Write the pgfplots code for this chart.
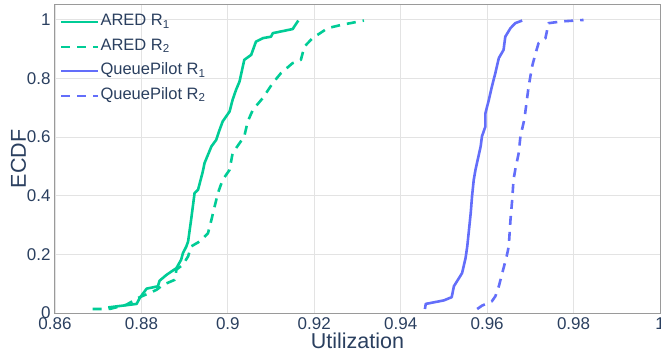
\documentclass[border=0pt]{standalone}
\usepackage{pgfplots}
\pgfplotsset{compat=1.18}
\usepackage{fontspec}
\setmainfont{Liberation Sans}
\definecolor{txt}{HTML}{2A3F5F}
\definecolor{cgreen}{HTML}{00CC96}
\definecolor{cblue}{HTML}{636EFA}
\definecolor{gridc}{HTML}{E3E3E3}
\definecolor{framec}{HTML}{9A9A9A}
\begin{document}
\begin{tikzpicture}
\useasboundingbox (-55bp,-45bp) rectangle (606bp,313bp);
\begin{axis}[
  at={(0,0)}, anchor=south west,
  scale only axis, width=605bp, height=308bp,
  xmin=0.86, xmax=1, ymin=0, ymax=1.05,
  xtick={0.86,0.88,...,1.001}, ytick={0,0.2,...,1.001},
  grid=major, major grid style={gridc, line width=0.8bp},
  axis line style={framec, line width=1bp},
  tick style={draw=none},
  /pgf/number format/assume math mode=true,
  ticklabel style={font=\fontsize{17bp}{20bp}\selectfont, text=txt},
  xticklabel style={yshift=-1bp},
  yticklabel style={xshift=-1bp},
  xlabel={Utilization}, ylabel={ECDF},
  label style={font=\fontsize{21.5bp}{24bp}\selectfont, text=txt},
  xlabel style={yshift=3bp},
  ylabel style={yshift=-6bp},
  legend style={at={(0.008,0.985)}, anchor=north west, draw=none, fill=none,
    font=\fontsize{16.5bp}{19bp}\selectfont, text=txt, row sep=0bp,
    inner sep=0pt, nodes={text height=14.5bp, text depth=7bp, inner sep=1.5bp}},
  legend cell align=left,
  legend image code/.code={\draw[#1, line width=2bp] (0bp,0bp) -- (37bp,0bp);},
  every axis plot/.append style={line width=2.6bp, line join=round},
]
\addplot[cgreen] coordinates {
(0.8723,0.019)(0.8789,0.031)(0.8796,0.051)(0.8812,0.083)(0.8838,0.091)(0.8842,0.110)
(0.8858,0.130)(0.8881,0.153)(0.8892,0.182)(0.8896,0.204)(0.8904,0.227)(0.8908,0.244)
(0.8915,0.318)(0.8923,0.409)(0.8931,0.420)(0.8942,0.482)(0.8946,0.511)(0.8962,0.568)
(0.8973,0.590)(0.8981,0.625)(0.8988,0.653)(0.9004,0.687)(0.9011,0.727)(0.9019,0.761)
(0.9027,0.789)(0.9038,0.863)(0.9054,0.880)(0.9065,0.925)(0.9081,0.937)(0.9100,0.942)
(0.9104,0.954)(0.9150,0.968)(0.9154,0.977)(0.9163,0.997)
};
\addlegendentry{ARED R\textsubscript{1}}
\addplot[cgreen, dash pattern=on 9bp off 7bp] coordinates {
(0.8687,0.0136)(0.8727,0.014)(0.8765,0.028)(0.8792,0.051)(0.8835,0.079)(0.8850,0.096)
(0.8877,0.113)(0.8881,0.148)(0.8896,0.165)(0.8908,0.193)(0.8915,0.227)(0.8935,0.244)
(0.8954,0.272)(0.8962,0.318)(0.8977,0.409)(0.8988,0.454)(0.9004,0.488)(0.9011,0.545)
(0.9038,0.602)(0.9046,0.653)(0.9058,0.693)(0.9081,0.733)(0.9104,0.784)(0.9123,0.818)
(0.9150,0.852)(0.9169,0.863)(0.9177,0.908)(0.9196,0.937)(0.9231,0.971)(0.9262,0.982)
(0.9315,0.997)
};
\addlegendentry{ARED R\textsubscript{2}}
\addplot[cblue] coordinates {
(0.9456,0.0136)(0.9458,0.031)(0.9500,0.043)(0.9518,0.054)(0.9523,0.091)(0.9542,0.136)
(0.9550,0.187)(0.9554,0.227)(0.9562,0.341)(0.9565,0.397)(0.9569,0.454)(0.9573,0.488)
(0.9585,0.568)(0.9588,0.602)(0.9596,0.636)(0.9596,0.681)(0.9604,0.727)(0.9611,0.772)
(0.9619,0.818)(0.9627,0.869)(0.9638,0.897)(0.9642,0.942)(0.9654,0.971)(0.9665,0.988)
(0.9681,0.997)
};
\addlegendentry{QueuePilot R\textsubscript{1}}
\addplot[cblue, dash pattern=on 9bp off 7bp] coordinates {
(0.9577,0.0136)(0.9588,0.025)(0.9611,0.040)(0.9619,0.057)(0.9627,0.091)(0.9638,0.153)
(0.9646,0.199)(0.9650,0.227)(0.9654,0.318)(0.9658,0.386)(0.9661,0.454)(0.9665,0.488)
(0.9673,0.545)(0.9677,0.602)(0.9685,0.653)(0.9688,0.681)(0.9692,0.727)(0.9696,0.772)
(0.9700,0.806)(0.9704,0.840)(0.9711,0.880)(0.9719,0.920)(0.9735,0.937)(0.9742,0.988)
(0.9773,0.994)(0.9823,0.999)
};
\addlegendentry{QueuePilot R\textsubscript{2}}
\end{axis}
\end{tikzpicture}
\end{document}
